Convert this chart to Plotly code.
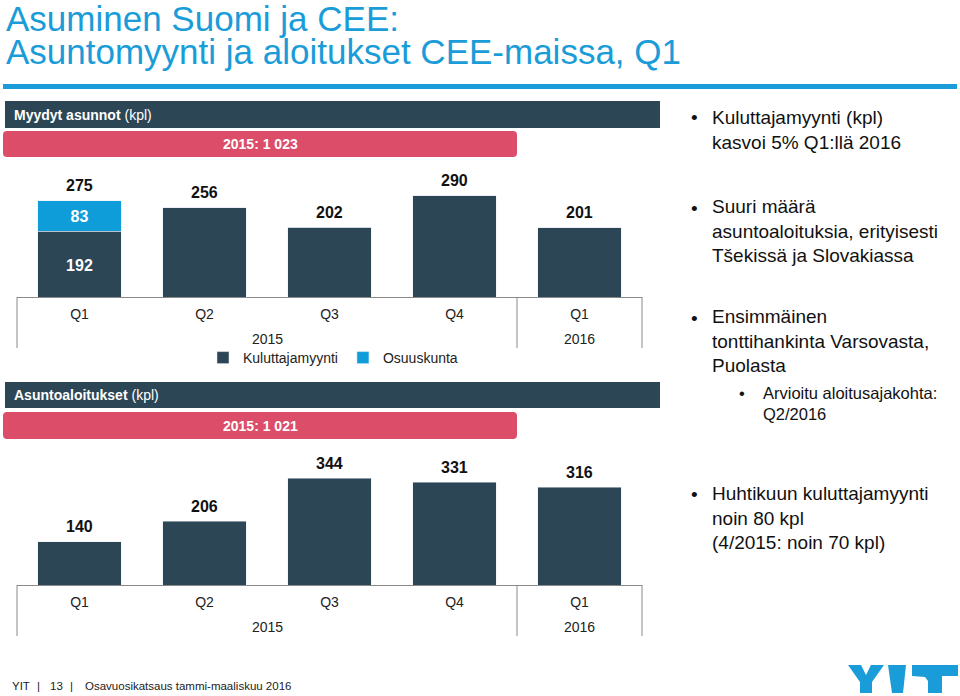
import plotly.graph_objects as go

# ---------------- data ----------------
years = ["2015", "2015", "2015", "2015", "2016"]
quarters = ["Q1", "Q2", "Q3", "Q4", "Q1"]
sold_consumer = [192, 256, 202, 290, 201]      # Kuluttajamyynti
sold_coop = [83, 0, 0, 0, 0]                    # Osuuskunta
starts = [140, 206, 344, 331, 316]              # Asuntoaloitukset
year_labels = ["2015", "2016"]
sold_total_2015 = "2015: 1 023"
starts_total_2015 = "2015: 1 021"

bullets_top = [
    "Kuluttajamyynti (kpl)<br>kasvoi 5% Q1:llä 2016",
    "Suuri määrä<br>asuntoaloituksia, erityisesti<br>Tšekissä ja Slovakiassa",
    "Ensimmäinen<br>tonttihankinta Varsovasta,<br>Puolasta",
]
sub_bullet = "Arvioitu aloitusajakohta:<br>Q2/2016"
bullet_bottom = "Huhtikuun kuluttajamyynti<br>noin 80 kpl<br>(4/2015: noin 70 kpl)"

# ---------------- styles ----------------
W, H = 960, 696
DARK = "#2c4656"
LIGHT = "#0f9dd9"
PINK = "#dc4d6a"
BLUE = "#1a9cd8"
AXIS = "#8a8a8a"
FONT = "Liberation Sans, Arial, sans-serif"


def X(px):
    return px / W


def Y(py):
    return 1 - py / H


cats = [f"{q} {y}" for q, y in zip(quarters, years)]
totals = [a + b for a, b in zip(sold_consumer, sold_coop)]

fig = go.Figure()

fig.add_trace(go.Bar(
    x=cats, y=sold_consumer, name="Kuluttajamyynti", marker_color=DARK,
    text=[str(v) if c else "" for v, c in zip(sold_consumer, sold_coop)],
    textposition="inside", insidetextanchor="middle",
    textfont=dict(color="white", size=16, family=FONT, weight="bold"),
    xaxis="x", yaxis="y", hoverinfo="skip",
))
fig.add_trace(go.Bar(
    x=cats, y=sold_coop, name="Osuuskunta", marker_color=LIGHT,
    text=[str(c) if c else "" for c in sold_coop],
    textposition="inside", insidetextanchor="middle",
    textfont=dict(color="white", size=16, family=FONT, weight="bold"),
    xaxis="x", yaxis="y", hoverinfo="skip",
))
fig.add_trace(go.Bar(
    x=cats, y=starts, name="Asuntoaloitukset", marker_color=DARK,
    showlegend=False, xaxis="x2", yaxis="y2", hoverinfo="skip",
))

# axis geometry (pixels)
top_base, top_top, top_min, top_scale = 297, 165, 10, 0.3623
bot_base, bot_top, bot_scale = 585, 447, 0.310

xaxis_common = dict(
    type="category", showline=True, linecolor=AXIS, linewidth=1,
    tickmode="array", tickvals=cats, ticktext=quarters, ticklabelstandoff=4,
    tickfont=dict(size=14, family=FONT, color="#222"), ticks="",
    showgrid=False, zeroline=False, fixedrange=True,
)

fig.update_layout(
    width=W, height=H, autosize=False,
    margin=dict(l=0, r=0, t=0, b=0),
    paper_bgcolor="white", plot_bgcolor="white",
    barmode="stack", bargap=0.335,
    font=dict(family=FONT, color="#222"),
    xaxis=dict(domain=[X(17), X(642)], anchor="y", **xaxis_common),
    yaxis=dict(domain=[Y(top_base), Y(top_top)], anchor="x",
               range=[top_min, top_min + (top_base - top_top) / top_scale],
               visible=False, fixedrange=True),
    xaxis2=dict(domain=[X(17), X(642)], anchor="y2", **xaxis_common),
    yaxis2=dict(domain=[Y(bot_base), Y(bot_top)], anchor="x2",
                range=[0, (bot_base - bot_top) / bot_scale],
                visible=False, fixedrange=True),
    legend=dict(orientation="h", x=X(203), y=Y(358), xanchor="left",
                yanchor="middle", font=dict(size=14, family=FONT, color="#222"),
                itemwidth=30, bgcolor="rgba(0,0,0,0)", traceorder="normal"),
    showlegend=True,
)

shapes = []
ann = []


def rect(x0, y0, x1, y1, color):
    shapes.append(dict(type="rect", xref="paper", yref="paper",
                       x0=X(x0), x1=X(x1), y0=Y(y1), y1=Y(y0),
                       fillcolor=color, line=dict(width=0), layer="below"))


def rounded(x0, y0, x1, y1, r, color):
    p = (f"M {X(x0 + r)},{Y(y0)} L {X(x1 - r)},{Y(y0)} "
         f"Q {X(x1)},{Y(y0)} {X(x1)},{Y(y0 + r)} L {X(x1)},{Y(y1 - r)} "
         f"Q {X(x1)},{Y(y1)} {X(x1 - r)},{Y(y1)} L {X(x0 + r)},{Y(y1)} "
         f"Q {X(x0)},{Y(y1)} {X(x0)},{Y(y1 - r)} L {X(x0)},{Y(y0 + r)} "
         f"Q {X(x0)},{Y(y0)} {X(x0 + r)},{Y(y0)} Z")
    shapes.append(dict(type="path", xref="paper", yref="paper", path=p,
                       fillcolor=color, line=dict(width=0), layer="below"))


def poly(pts, color):
    p = "M " + " L ".join(f"{X(a)},{Y(b)}" for a, b in pts) + " Z"
    shapes.append(dict(type="path", xref="paper", yref="paper", path=p,
                       fillcolor=color, line=dict(width=0)))


def text(px, py, s, size, color="#111", xanchor="left", yanchor="middle", family=FONT):
    ann.append(dict(xref="paper", yref="paper", x=X(px), y=Y(py), text=s,
                    showarrow=False, xanchor=xanchor, yanchor=yanchor, align="left",
                    font=dict(size=size, color=color, family=family)))


# value labels above bars (placed on the data axes)
for xa, ya, vals in [("x", "y", totals), ("x2", "y2", starts)]:
    for c, v in zip(cats, vals):
        ann.append(dict(xref=xa, yref=ya, x=c, y=v, text=f"<b>{v}</b>",
                        showarrow=False, xanchor="center", yanchor="middle",
                        yshift=15, font=dict(size=16, color="#111", family=FONT)))

# category boxes: dividers + year labels
for xa, base in [("x", top_base), ("x2", bot_base)]:
    for d in [0, 0.8, 1]:
        shapes.append(dict(type="line", xref=f"{xa} domain", yref="paper",
                           x0=d, x1=d, y0=Y(base), y1=Y(base + 51),
                           line=dict(color=AXIS, width=1)))
    for yl, xc in zip(year_labels, [0.4, 0.9]):
        ann.append(dict(xref=f"{xa} domain", yref="paper", x=xc, y=Y(base + 42),
                        text=yl, showarrow=False, xanchor="center", yanchor="middle",
                        font=dict(size=14, color="#222", family=FONT)))

# title
text(4, 19, "Asuminen Suomi ja CEE:", 35, BLUE)
text(4, 51, "Asuntomyynti ja aloitukset CEE-maissa, Q1", 35, BLUE)
rect(3, 84, 957, 89, BLUE)

# section headers
rect(5, 101, 660, 128, DARK)
text(12, 114.5, "<b>Myydyt asunnot</b> (kpl)", 14, "white")
rounded(3, 131, 517, 157, 4, PINK)
text(260, 144, "<b>" + sold_total_2015 + "</b>", 14, "white", xanchor="center")

rect(5, 382, 660, 408, DARK)
text(12, 395, "<b>Asuntoaloitukset</b> (kpl)", 14, "white")
rounded(3, 412, 517, 439, 4, PINK)
text(260, 425.5, "<b>" + starts_total_2015 + "</b>", 14, "white", xanchor="center")

# right-side bullets
for s, yc, y1 in zip(bullets_top, [130, 231, 341], [118, 208, 318]):
    text(689, y1, "•", 19)
    text(710, yc, s, 19)
text(737, 393, "•", 16.5)
text(761, 403.5, sub_bullet, 16.5)
text(689, 494, "•", 19)
text(710, 518, bullet_bottom, 19)

# footer
text(10, 686, "YIT", 11.5, "#222")
text(38, 686, "|", 11.5, "#222", xanchor="center")
text(48, 686, "13", 11.5, "#222")
text(71, 686, "|", 11.5, "#222", xanchor="center")
text(83, 686, "Osavuosikatsaus tammi-maaliskuu 2016", 11.5, "#222")

# YIT logo
poly([(848, 665), (861, 665), (866, 675), (871, 665), (884, 665),
      (872, 682), (872, 693), (860, 693), (860, 682)], BLUE)
poly([(888, 665), (906, 665), (903, 693), (892, 693)], BLUE)
poly([(912, 665), (958, 665), (958, 676), (942, 676), (942, 693),
      (928, 693), (928, 681), (925, 677), (912, 676)], BLUE)

fig.update_layout(shapes=shapes, annotations=ann)
fig.write_html("out.html", config={"displayModeBar": False},
               post_script="document.body.style.margin='0';"
                           "document.body.style.overflow='hidden';")
